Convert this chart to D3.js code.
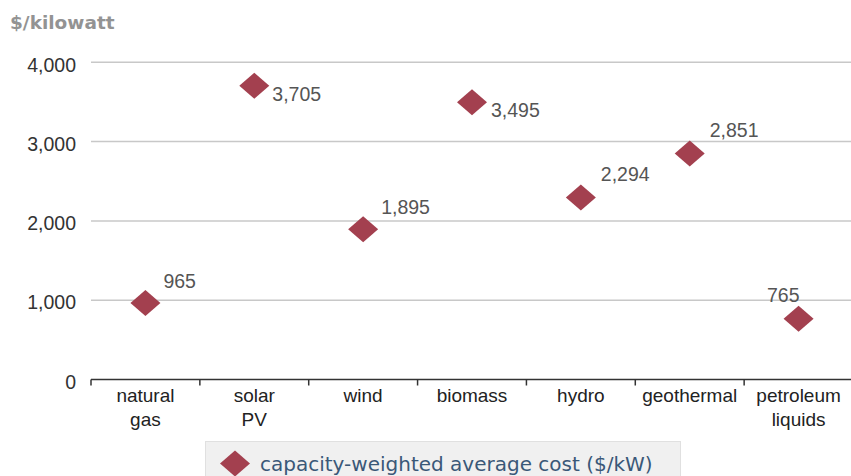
<!DOCTYPE html>
<html>
<head>
<meta charset="utf-8">
<script src="https://cdn.jsdelivr.net/npm/d3@7"></script>
<style>
    body { margin: 0; background: #fff; }
    svg { font-family: "Liberation Sans", Arial, sans-serif; }
    .grid line { stroke: #c8c8c8; stroke-width: 1.5; }
    .y-axis text { fill: #333; font-size: 19.5px; }
    .x-axis text { fill: #222; font-size: 19px; }
    .x-axis path, .x-axis line { stroke: #333; stroke-width: 1.5; }
    .val-label { fill: #555; font-size: 19.5px; }
</style>
</head>
<body>
<div id="vis"></div>
<script>
    var categories = [["natural", "gas"], ["solar", "PV"], ["wind"], ["biomass"], ["hydro"], ["geothermal"], ["petroleum", "liquids"]];
    var costs = [965, 3705, 1895, 3495, 2294, 2851, 765];
    var yTicks = [0, 1000, 2000, 3000, 4000];
    var seriesName = "capacity-weighted average cost ($/kW)";
    var unitLabel = "$/kilowatt";

    // label offsets from the marker centre (dx, baseline dy, anchor)
    var labelOffsets = [[18, -15, "start"], [18, 15.5, "start"], [18, -15.5, "start"], [19, 15, "start"],
        [20, -17, "start"], [20, -16.5, "start"], [1, -16.5, "end"]];

    var width = 851,
        height = 476;

    var svg = d3.select("#vis").append("svg")
        .attr("width", width)
        .attr("height", height);

    var x = d3.scaleBand()
        .domain(d3.range(categories.length))
        .range([91, 853]);

    var y = d3.scaleLinear()
        .domain([0, 4000])
        .range([379.5, 62.3]);

    svg.append("text")
        .attr("x", 10)
        .attr("y", 29)
        .attr("fill", "#939393")
        .style("font-family", "'DejaVu Sans', sans-serif")
        .style("font-size", "18.5px")
        .style("font-weight", "bold")
        .text(unitLabel);

    svg.append("g")
        .attr("class", "grid")
        .selectAll("line")
        .data(yTicks.slice(1))
        .enter().append("line")
        .attr("x1", 91)
        .attr("x2", width)
        .attr("y1", function(d) { return y(d); })
        .attr("y2", function(d) { return y(d); });

    var yAxis = svg.append("g")
        .attr("class", "y-axis")
        .attr("transform", "translate(76,0)")
        .call(d3.axisLeft(y).tickValues(yTicks).tickSize(0).tickPadding(0).tickFormat(d3.format(",")));
    yAxis.select(".domain").remove();
    yAxis.selectAll("text").attr("dy", "0.45em");

    var xAxis = svg.append("g")
        .attr("class", "x-axis")
        .attr("transform", "translate(0," + y(0) + ")")
        .call(d3.axisBottom(x).tickSize(6).tickSizeOuter(0).tickFormat(""));
    xAxis.selectAll(".tick").remove();
    xAxis.select(".domain").attr("d", "M91,0H" + width);

    xAxis.selectAll(".sep")
        .data(d3.range(categories.length))
        .enter().append("line")
        .attr("class", "sep")
        .attr("x1", function(d) { return x(d); })
        .attr("x2", function(d) { return x(d); })
        .attr("y1", 0)
        .attr("y2", 6);

    xAxis.selectAll(".cat")
        .data(categories)
        .enter().append("text")
        .attr("class", "cat")
        .attr("text-anchor", "middle")
        .attr("transform", function(d, i) { return "translate(" + (x(i) + x.bandwidth() / 2) + ",0)"; })
        .each(function(d) {
            var t = d3.select(this);
            d.forEach(function(line, j) {
                t.append("tspan").attr("x", 0).attr("y", 22 + j * 24).text(line);
            });
        });

    var diamond = "M0,-13L15,0L0,13L-15,0Z";
    var color = "#a3404f";

    svg.append("g")
        .selectAll("path")
        .data(costs)
        .enter().append("path")
        .attr("d", diamond)
        .attr("fill", color)
        .attr("transform", function(d, i) {
            return "translate(" + (x(i) + x.bandwidth() / 2) + "," + y(d) + ")";
        });

    svg.append("g")
        .selectAll("text")
        .data(costs)
        .enter().append("text")
        .attr("class", "val-label")
        .attr("text-anchor", function(d, i) { return labelOffsets[i][2]; })
        .attr("x", function(d, i) { return x(i) + x.bandwidth() / 2 + labelOffsets[i][0]; })
        .attr("y", function(d, i) { return y(d) + labelOffsets[i][1]; })
        .text(d3.format(","));

    var legend = svg.append("g")
        .attr("transform", "translate(205,441)");

    legend.append("rect")
        .attr("x", 0.5)
        .attr("y", 0.5)
        .attr("width", 475)
        .attr("height", 40)
        .attr("fill", "#f0f0f0")
        .attr("stroke", "#e0e0e0");

    legend.append("path")
        .attr("d", diamond)
        .attr("fill", color)
        .attr("transform", "translate(30,22.5)");

    legend.append("text")
        .attr("x", 55)
        .attr("y", 30)
        .attr("fill", "#3a5878")
        .style("font-family", "'DejaVu Sans', sans-serif")
        .style("font-size", "20px")
        .text(seriesName);
</script>
</body>
</html>
